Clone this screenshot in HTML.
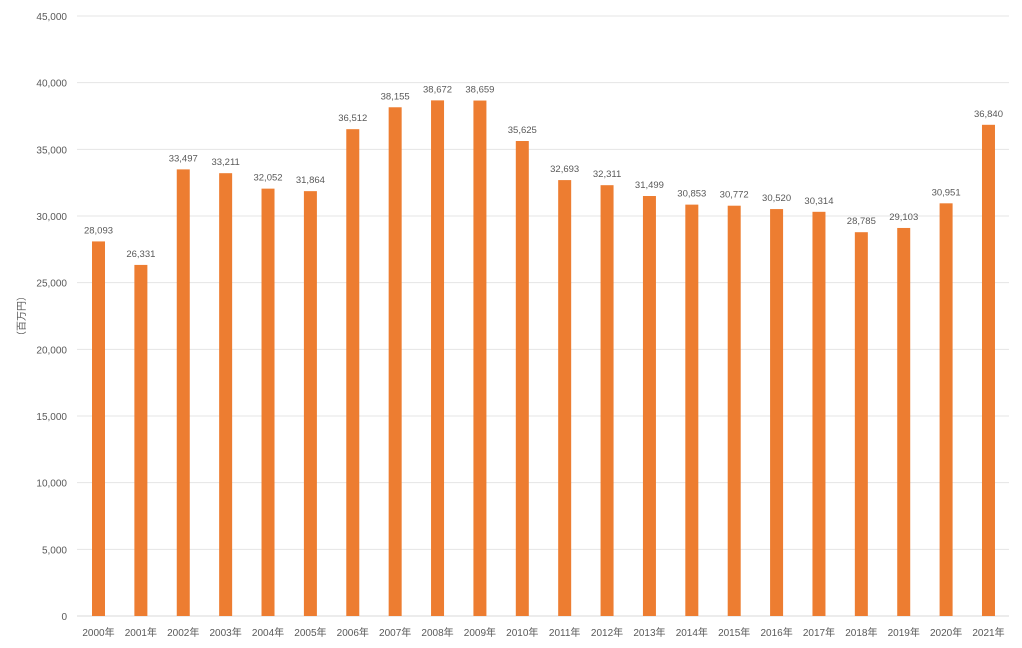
<!DOCTYPE html>
<html><head><meta charset="utf-8"><style>body{margin:0;background:#fff}svg{display:block}text{font-family:"Liberation Sans","Noto Sans CJK JP",sans-serif;fill:#595959}</style></head><body>
<svg width="1022" height="648" xmlns="http://www.w3.org/2000/svg" id="c"></svg>
<script>
const s=document.getElementById('c');let h='';
const y0=616,k=600/45000;
for(let v=0;v<=45000;v+=5000){const y=y0-v*k;h+=`<line x1="77" x2="1009" y1="${y}" y2="${y}" stroke="${v?'#e4e4e4':'#d9d9d9'}" stroke-width="1"/>`;h+=`<text x="67" y="${y+4}" font-size="10" text-anchor="end">${v.toLocaleString('en-US')}</text>`;}
const d=[28093,26331,33497,33211,32052,31864,36512,38155,38672,38659,35625,32693,32311,31499,30853,30772,30520,30314,28785,29103,30951,36840];
d.forEach((v,i)=>{const c=98.5+42.38*i,y=y0-v*k;h+=`<rect x="${c-6.5}" y="${y}" width="13" height="${y0-y}" fill="#ED7D31"/>`;h+=`<text x="${c}" y="${y-8}" font-size="9.5" text-anchor="middle" fill="#404040">${v.toLocaleString('en-US')}</text>`;h+=`<text x="${c}" y="636" font-size="10" text-anchor="middle">${2000+i}年</text>`;});
h+=`<text transform="translate(25,316) rotate(-90)" font-size="10" text-anchor="middle">（百万円）</text>`;
s.innerHTML=h;
</script></body></html>
